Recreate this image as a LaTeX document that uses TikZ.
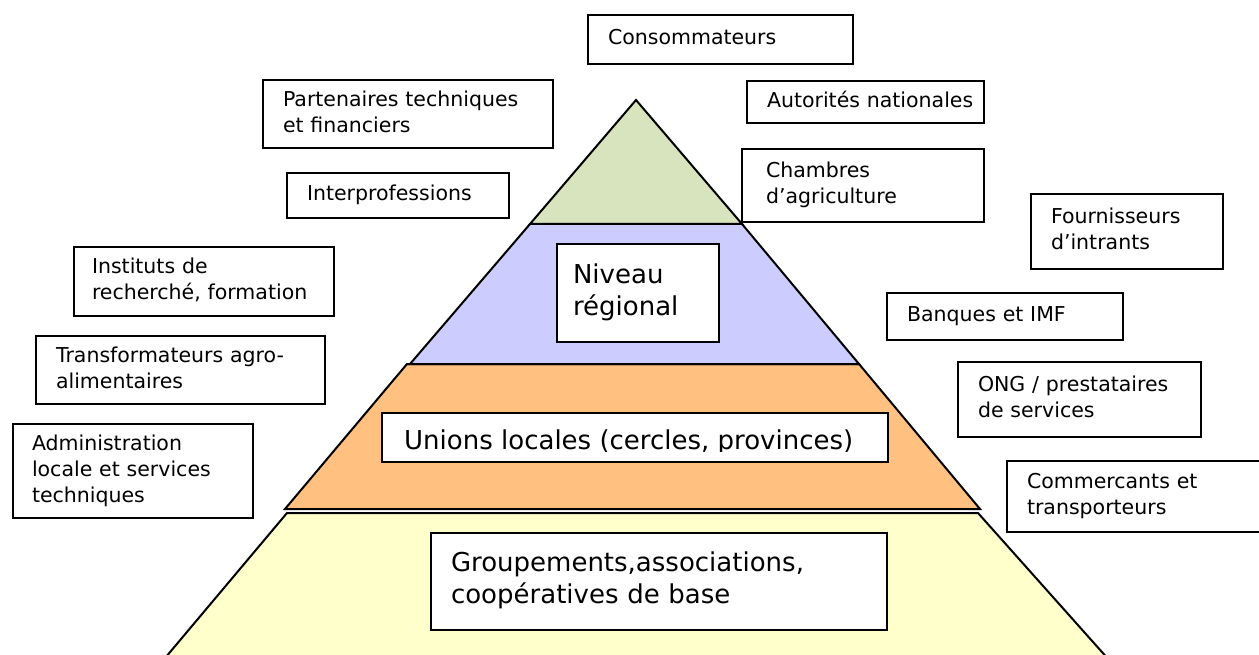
\documentclass[tikz,border=0pt]{standalone}
\usepackage{fontspec}
\setmainfont{DejaVu Sans}
\newcommand{\smallf}{\fontsize{20.5}{26}\selectfont}
\newcommand{\bigf}{\fontsize{26}{32}\selectfont}
\newcommand{\bx}[1]{\begin{tabular}{@{}l@{}}#1\end{tabular}}
\definecolor{pgreen}{HTML}{D7E4BD}
\definecolor{ppurple}{HTML}{CCCCFF}
\definecolor{porange}{HTML}{FFC080}
\definecolor{pyellow}{HTML}{FFFFCC}
\begin{document}
\begin{tikzpicture}[x=1pt,y=-1pt,
  layer/.style={draw=black,line width=2pt,line join=miter},
  box/.style={draw=black,line width=2pt,fill=white,anchor=north west,
    align=left,inner xsep=20pt,inner ysep=0pt,font=\smallf},
  bigbox/.style={box,font=\bigf}]
\useasboundingbox (0,0) rectangle (1259,655);
\clip (0,0) rectangle (1259,655);
\fill[white] (0,0) rectangle (1259,655);
% pyramid
\filldraw[layer,fill=pyellow] (287,513) -- (978,513) -- (1118,670) -- (155,670) -- cycle;
\filldraw[layer,fill=porange] (407,364) -- (859,364) -- (980,509) -- (285,509) -- cycle;
\filldraw[layer,fill=ppurple] (530,224) -- (742,224) -- (859,364) -- (410,364) -- cycle;
\filldraw[layer,fill=pgreen] (636,100) -- (742,224) -- (530,224) -- cycle;
% outer boxes
\node[box,text width=225pt,minimum height=49pt] (cons) at (587,14) {\bx{Consommateurs}};
\node[box,text width=197pt,minimum height=42pt] (auto) at (746,80) {\bx{Autorités nationales}};
\node[box,text width=250pt,minimum height=68pt] (part) at (262,79) {\bx{Partenaires techniques\\et financiers}};
\node[box,inner xsep=24pt,text width=194pt,minimum height=73pt] (cham) at (741,148) {\bx{Chambres\\d’agriculture}};
\node[box,text width=182pt,minimum height=45pt] (inter) at (286,172) {\bx{Interprofessions}};
\node[box,text width=152pt,minimum height=75pt] (four) at (1030,193) {\bx{Fournisseurs\\d’intrants}};
\node[box,inner xsep=18pt,text width=224pt,minimum height=69pt] (inst) at (73,246) {\bx{Instituts de\\recherché, formation}};
\node[box,text width=196pt,minimum height=47pt] (banq) at (886,292) {\bx{Banques et IMF}};
\node[box,text width=249pt,minimum height=68pt] (trans) at (35,335) {\bx{Transformateurs agro-\\alimentaires}};
\node[box,text width=203pt,minimum height=75pt] (ong) at (957,361) {\bx{ONG / prestataires\\de services}};
\node[box,inner xsep=19pt,text width=202pt,minimum height=94pt] (admin) at (12,423) {\bx{Administration\\locale et services\\techniques}};
\node[box,text width=225pt,minimum height=71pt] (comm) at (1006,460) {\bx{Commercants et\\transporteurs}};
% level boxes
\node[bigbox,inner xsep=16pt,text width=130pt,minimum height=98pt] (niv) at (556,243) {\bx{Niveau\\régional}};
\node[bigbox,minimum width=506pt,minimum height=49pt] (unions) at (381,412) {};
\begin{scope}
\clip (382,413) rectangle (886,451);
\node[anchor=base west,font=\bigf,inner sep=0pt] (unionstxt) at (404,449.5) {Unions locales (cercles, provinces)};
\end{scope}
\node[bigbox,text width=416pt,minimum height=97pt] (grp) at (430,532) {\bx{Groupements,associations,\\coopératives de base}};
\end{tikzpicture}
\end{document}
